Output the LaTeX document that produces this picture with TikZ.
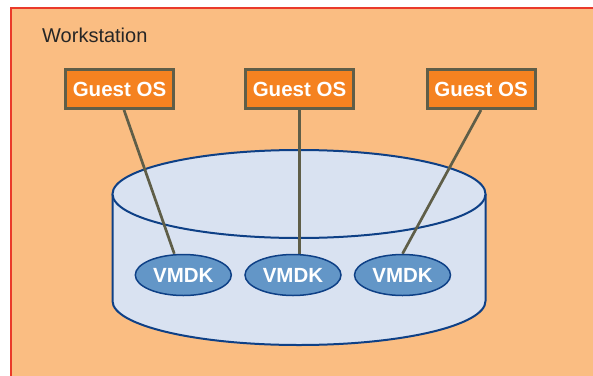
\documentclass[tikz,border=0pt]{standalone}
\usepackage{fontspec}
\setmainfont{Liberation Sans}
\usetikzlibrary{shapes.geometric,calc}
\definecolor{peach}{RGB}{250,189,130}
\definecolor{redline}{RGB}{234,58,42}
\definecolor{boxfill}{RGB}{245,130,32}
\definecolor{boxline}{RGB}{95,94,72}
\definecolor{cylfill}{RGB}{217,226,241}
\definecolor{cylline}{RGB}{14,64,134}
\definecolor{vmfill}{RGB}{99,150,199}
\pgfdeclarelayer{back}
\pgfdeclarelayer{mid}
\pgfsetlayers{back,mid,main}
\tikzset{
  guest/.style={draw=boxline, line width=3pt, fill=boxfill, text=white,
    font=\fontsize{20.5}{22}\selectfont\bfseries, minimum width=108pt,
    minimum height=39pt, inner sep=0pt},
  vmdk/.style={ellipse, draw=cylline, line width=1.5pt, fill=vmfill, text=white,
    font=\fontsize{20.5}{22}\selectfont\bfseries, minimum width=96pt,
    minimum height=41pt, inner sep=0pt},
  link/.style={draw=boxline, line width=2.7pt},
  cyl/.style={draw=cylline, line width=2pt, fill=cylfill}
}
\begin{document}
\begin{tikzpicture}[x=1pt,y=-1pt]
\useasboundingbox (0,0) rectangle (593,375);
\node[guest] (g1) at (119.5,89) {Guest OS};
\node[guest] (g2) at (299.5,89) {Guest OS};
\node[guest] (g3) at (481,89) {Guest OS};
\node[vmdk] (v1) at (183.3,275) {VMDK};
\node[vmdk] (v2) at (293,275) {VMDK};
\node[vmdk] (v3) at (402.5,275) {VMDK};
\node[anchor=base west, inner sep=0pt, font=\fontsize{20}{22}\selectfont, text=black!85] (ws) at (42,42) {Workstation};
\begin{pgfonlayer}{back}
  \fill[peach] (11,8) rectangle (610,390);
  \draw[redline, line width=2.5pt] (610,8) -- (11,8) -- (11,390);
  \draw[cyl] (112.5,194) -- (112.5,301) arc[start angle=180, end angle=360, x radius=186.5, y radius=-44] -- (485.5,194);
  \draw[cyl] (299,194) ellipse[x radius=186.5, y radius=44];
\end{pgfonlayer}
\begin{pgfonlayer}{mid}
  \draw[link] ([xshift=4.5pt]g1.south) -- ([xshift=-9pt]v1.north);
  \draw[link] (g2.south) -- (g2.south |- v2.north);
  \draw[link] (g3.south) -- (v3.north);
\end{pgfonlayer}
\end{tikzpicture}
\end{document}
